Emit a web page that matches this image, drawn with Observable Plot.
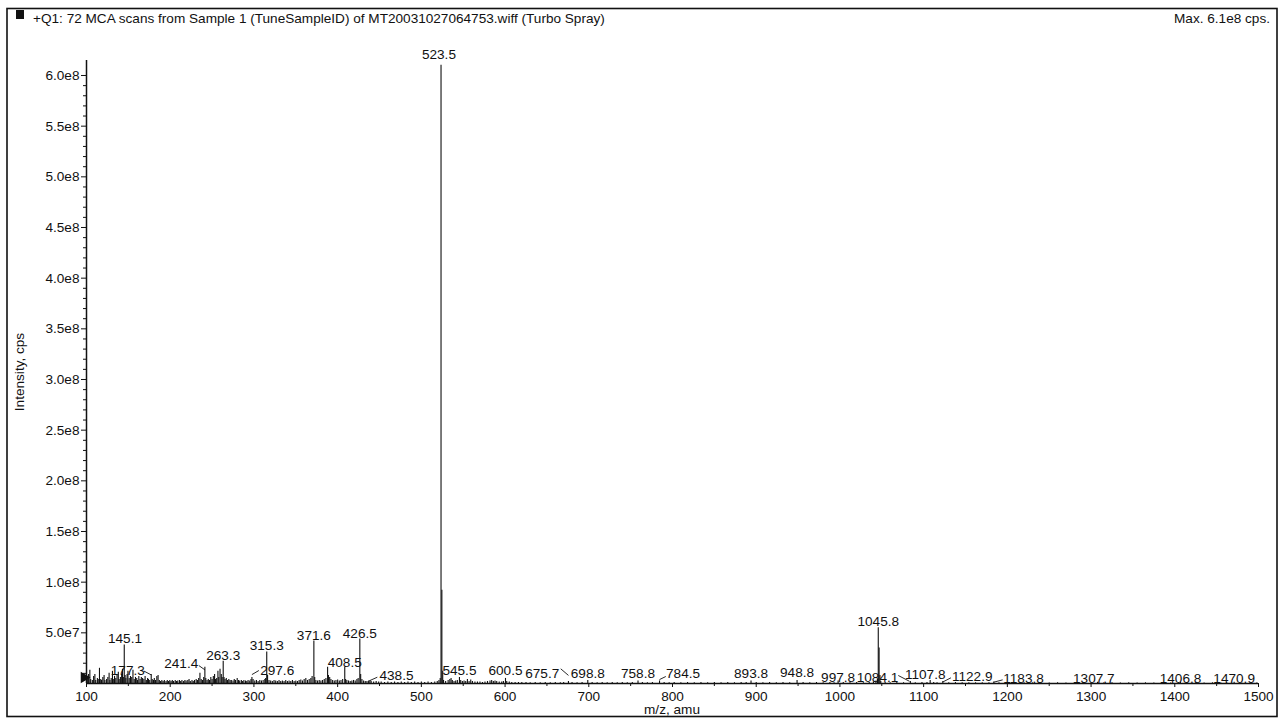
<!DOCTYPE html>
<html>
<head>
<meta charset="utf-8">
<script src="https://cdn.jsdelivr.net/npm/d3@7"></script>
<script src="https://cdn.jsdelivr.net/npm/@observablehq/plot@0.6"></script>
<style>
  html, body { margin: 0; padding: 0; background: #fff; }
  #chart { position: relative; width: 1283px; height: 726px; }
  svg { font-family: "Liberation Sans", Arial, sans-serif; }
</style>
</head>
<body>
<div id="chart"></div>
<script>
// ---- Header texts ----
const titleText = "+Q1: 72 MCA scans from Sample 1 (TuneSampleID) of MT20031027064753.wiff (Turbo Spray)";
const maxText = "Max. 6.1e8 cps.";
const xLabel = "m/z, amu";
const yLabel = "Intensity, cps";

// ---- Axis ticks ----
const xTicks = [100, 200, 300, 400, 500, 600, 700, 800, 900, 1000, 1100, 1200, 1300, 1400, 1500];
const yTicks = [5e7, 1e8, 1.5e8, 2e8, 2.5e8, 3e8, 3.5e8, 4e8, 4.5e8, 5e8, 5.5e8, 6e8];
const yTickLabels = ["5.0e7", "1.0e8", "1.5e8", "2.0e8", "2.5e8", "3.0e8", "3.5e8", "4.0e8", "4.5e8", "5.0e8", "5.5e8", "6.0e8"];

// ---- Spectrum sticks: m/z and intensity (units of 1e6 cps) ----
const peakMz = [
  101,102.5,104,105,107,108.5,110,111,113,114,115.5,117,118,119.5,121,122,124,125.5,127,128,129.5,131,132,133.5,135,136.5,138,139,140.5,142,143,144,145.1,146.1,147,148.5,149.5,151,152.5,154,155.5,157,158.5,160,161,162.5,164,165.5,167,168.5,170,171.5,173,174,175.5,177.3,178.5,180,181,182.5,184,185.5,187,188.5,190,191.5,193,195,196.5,198,199.5,
  201,202.5,204,206,207.5,209,211,212.5,214,216,217.5,219,221,222.5,224,226,227.5,229,231,232.5,234,235.5,237,238.5,240,241.4,242.5,244,245.5,247,248.5,250,251.5,253,254,255.5,257,258,259.5,261,262,263.3,264.3,265.5,267,268.5,270,271.5,273,275,276.5,278,280,281.5,283,285,286.5,288,290,291.5,293,295,296.5,297.6,299,
  301,303,305,307,309,311,313,314,315.3,316.3,318,320,322,324,326,328,330,332,334,336,338,340,342,344,346,348,350,352,354,356,358,360,362,364,366,368,369.5,371.6,372.6,374,376,378,380,382,384,386,388,389,390.5,392,394,396,398,400,402,404,406,408.5,409.5,411,413,415,417,419,421,423,424.5,426.5,427.5,429,431,433,435,437,438.5,440,443,446,449,
  452,456,460,464,468,472,476,480,484,488,492,496,500,504,508,512,516,519,521,522.5,523.5,524.5,525.5,526.5,
  529,532,534,535.5,537,539,541,543,545.5,547,549,551,553,555,557,559,561,564,567,570,573,576,579,582,584,586,588,590,593,596,598,600.5,602,605,608,612,616,620,
  625,630,636,642,648,654,660,666,670,675.7,680,686,692,698.8,704,710,716,722,728,734,740,746,752,758.8,764,770,776,784.5,790,796,802,810,818,826,834,842,850,858,866,874,882,888,893.8,900,908,916,924,932,940,948.8,956,964,972,980,988,993,997.8,1004,1012,1020,1028,1035,1040,1043,1044.8,
  1045.8,1046.8,1047.8,1048.8,
  1054,1060,1068,1076,1084.1,1090,1098,1104,1107.8,1112,1116,1122.9,1130,1138,1146,1154,1162,1170,1178,1183.8,1190,1200,1210,1220,1230,1240,1250,1260,1270,1280,1290,1300,1307.7,1315,1325,1335,1345,1355,1365,1375,1385,1395,1406.8,1415,1425,1435,1445,1455,1462,1470.9,1480,1490,1498
];
const peakInt = [
  6,9,13,4,3,7,9,3,5,4,15,4,3,6,8,3,4,6,10,3,5,12,4,7,5,9,11,4,6,9,14,6,38,8,5,9,12,5,7,6,13,4,6,5,3,7,4,6,5,4,7,3,5,4,3,9,4,3,5,3,7,8,3,2,3,2,3,2,3,2,3,
  2,3,2,3,2,2.5,3,2,3,2,3,2.5,3,4,2,3,2,3,4,3,5,10,4,3,6,16,5,3,4,3,6,4,7,9,4,5,12,6,14,9,6,22,6,4,5,3,4,3,3,2.5,4,3,5,3,2.5,3,2,3,2.5,2,3,2.5,4,6,4,
  2.5,3,2,3,2.5,3,4,5,31,8,3,2.5,2,3,2.5,2,3,2,2.5,2,3,2,2.5,2,3,2,2.5,2,3,3.5,2.5,4,5,3,4,5,7,42,6,3,2.5,3,2.5,3,4,5,16,8,6,4,3,2.5,3,3.5,2.5,3,4,16,4,3,2.5,2,2.5,3,2.5,4,5,44,9,4,2.5,2,2,2.5,3,2,1.5,2,1.5,
  1.5,1,1.5,1,1.5,1,1.5,1,1.5,1,1.5,1,1.5,1,1.5,1,1.5,2,3,5,610,92,12,3,
  2,3,4,5,3,2,2.5,3,6,3,2,2.5,2,4,2,3.5,2,1.5,1.5,1.5,1,1.5,2,2.5,3,2,2.5,2,1.5,1.5,2,5,2,1.5,1,1,1,1,
  1,0.8,1,0.8,1,0.8,1,0.8,1,2,1,0.8,1,3,1,0.8,1,0.8,1,0.8,1,0.8,1,2.5,1,0.8,1,2.5,1,0.8,1,0.8,1,0.8,1,0.8,1,0.8,1,0.8,1,1,2.5,1,0.8,1,0.8,1,0.8,3,1,0.8,1,0.8,1,0.8,2.5,1,0.8,1,0.8,1,1.5,2.5,4,
  55,35,8,2,
  1,0.8,1,0.8,2,0.8,1,1,3,1,0.8,2,0.8,1,0.7,0.8,0.7,0.8,0.7,1.5,0.7,0.8,0.6,0.7,0.6,0.7,0.6,0.7,0.6,0.7,0.6,0.7,1.2,0.6,0.7,0.6,0.7,0.6,0.7,0.6,0.7,0.6,1.2,0.6,0.7,0.6,0.7,0.6,0.7,1.2,0.6,0.7,0.6
];

// ---- Peak annotations (text, anchor m/z, anchor intensity in 1e6 cps) ----
const labelText = ["145.1","177.3","241.4","263.3","297.6","315.3","371.6","408.5","426.5","438.5","523.5","545.5","600.5","675.7","698.8","758.8","784.5","893.8","948.8","997.8","1045.8","1084.1","1107.8","1122.9","1183.8","1307.7","1406.8","1470.9"];
const labelMz   = [146, 149.3, 213.2, 263.3, 327.8, 315.3, 371.6, 408.5, 426.5, 470.3, 521, 545.5, 600.5, 644.4, 698.8, 758.8, 812.6, 893.8, 948.8, 997.8, 1045.8, 1044.9, 1101.9, 1158, 1219.3, 1303.3, 1406.8, 1470.9];
const labelInt  = [44.4, 12.8, 20, 27.6, 12.8, 37.5, 47.4, 21, 49.6, 7.9, 621, 12.8, 12.8, 10.2, 10.2, 10.2, 10.2, 9.9, 10.9, 6.2, 61.5, 6.2, 8.9, 6.9, 4.6, 4.9, 4.9, 4.9];

// ---- Leader lines from offset labels to their peaks ----
const leaderMz1  = [168.5, 234.2, 305.9, 447.4, 666.5, 784.5, 1069.7, 1122.9, 1183.8];
const leaderInt1 = [12.3, 17.7, 12.8, 6.2, 14.5, 3.9, 7.9, 1.5, 1.3];
const leaderMz2  = [177.3, 241.4, 297.6, 438.5, 675.7, 792, 1083, 1132.6, 1194.4];
const leaderInt2 = [8.5, 13.5, 8.8, 2.9, 8, 6.9, 2.2, 5.6, 3.6];

// ---- Build tables ----
const M = 1e6;
const peaks = peakMz.map((mz, i) => ({mz, intensity: peakInt[i] * M}));
const labels = labelText.map((t, i) => ({t, mz: labelMz[i], v: labelInt[i] * M}));
const leaders = leaderMz1.map((m, i) => ({x1: m, y1: leaderInt1[i] * M, x2: leaderMz2[i], y2: leaderInt2[i] * M}));
const xMinor = d3.range(150, 1500, 100);
const yMinor = d3.range(1e7, 6.1e8, 1e7).filter(v => Math.round(v / 1e7) % 5 !== 0);

const W = 1283, H = 726;
const ink = "#111";
const fs = 13.6;

const chart = Plot.plot({
  width: W,
  height: H,
  marginLeft: 86,
  marginRight: 25,
  marginTop: 60,
  marginBottom: 43,
  style: {fontFamily: '"Liberation Sans", Arial, sans-serif', fontSize: fs + "px", color: ink, background: "white"},
  x: {domain: [100, 1500]},
  y: {domain: [0, 6.148e8]},
  marks: [
    Plot.ruleX(peaks, {x: "mz", y1: 0, y2: "intensity", stroke: ink, strokeWidth: 1.1}),
    Plot.ruleY([0], {stroke: ink, strokeWidth: 1.5}),
    Plot.ruleX([100], {stroke: ink, strokeWidth: 1.5}),
    Plot.axisX({ticks: xTicks, tickSize: 4, tickPadding: 4, tickFormat: d => String(d), label: null, stroke: ink, fill: ink, fontSize: fs}),
    Plot.axisX({ticks: xMinor, tickSize: 3, tickFormat: () => "", label: null, stroke: ink}),
    Plot.axisY({ticks: yTicks, tickSize: 5, tickPadding: 2, tickFormat: d => yTickLabels[yTicks.indexOf(d)], label: null, stroke: ink, fill: ink, fontSize: fs}),
    Plot.axisY({ticks: yMinor, tickSize: 3, tickFormat: () => "", label: null, stroke: ink}),
    Plot.link(leaders, {x1: "x1", y1: "y1", x2: "x2", y2: "y2", stroke: ink, strokeWidth: 0.9}),
    Plot.text(labels, {x: "mz", y: "v", text: "t", textAnchor: "middle", lineAnchor: "middle", fill: ink, fontSize: fs}),
    Plot.dot([0], {x: () => 100, y: () => 0, symbol: "triangle", rotate: 90, r: 4.2, fill: ink, stroke: "none", dx: -2.5, dy: -6})
  ]
});

document.getElementById("chart").appendChild(chart);

// ---- Frame, header and axis titles ----
const svg = d3.select(chart);
svg.append("rect").attr("x", 7).attr("y", 8.5).attr("width", 1270).attr("height", 708)
  .attr("fill", "none").attr("stroke", ink).attr("stroke-width", 1.6);
svg.append("rect").attr("x", 16).attr("y", 10).attr("width", 8).attr("height", 9).attr("fill", ink);
svg.append("text").attr("x", 33).attr("y", 23).attr("font-size", fs).attr("fill", ink).attr("text-anchor", "start").text(titleText);
svg.append("text").attr("x", 1270).attr("y", 23).attr("font-size", fs).attr("fill", ink).attr("text-anchor", "end").text(maxText);
svg.append("text").attr("x", 672).attr("y", 714).attr("font-size", fs).attr("fill", ink).attr("text-anchor", "middle").text(xLabel);
svg.append("text").attr("transform", "translate(24,372) rotate(-90)").attr("font-size", fs).attr("fill", ink).attr("text-anchor", "middle").text(yLabel);
</script>
</body>
</html>
